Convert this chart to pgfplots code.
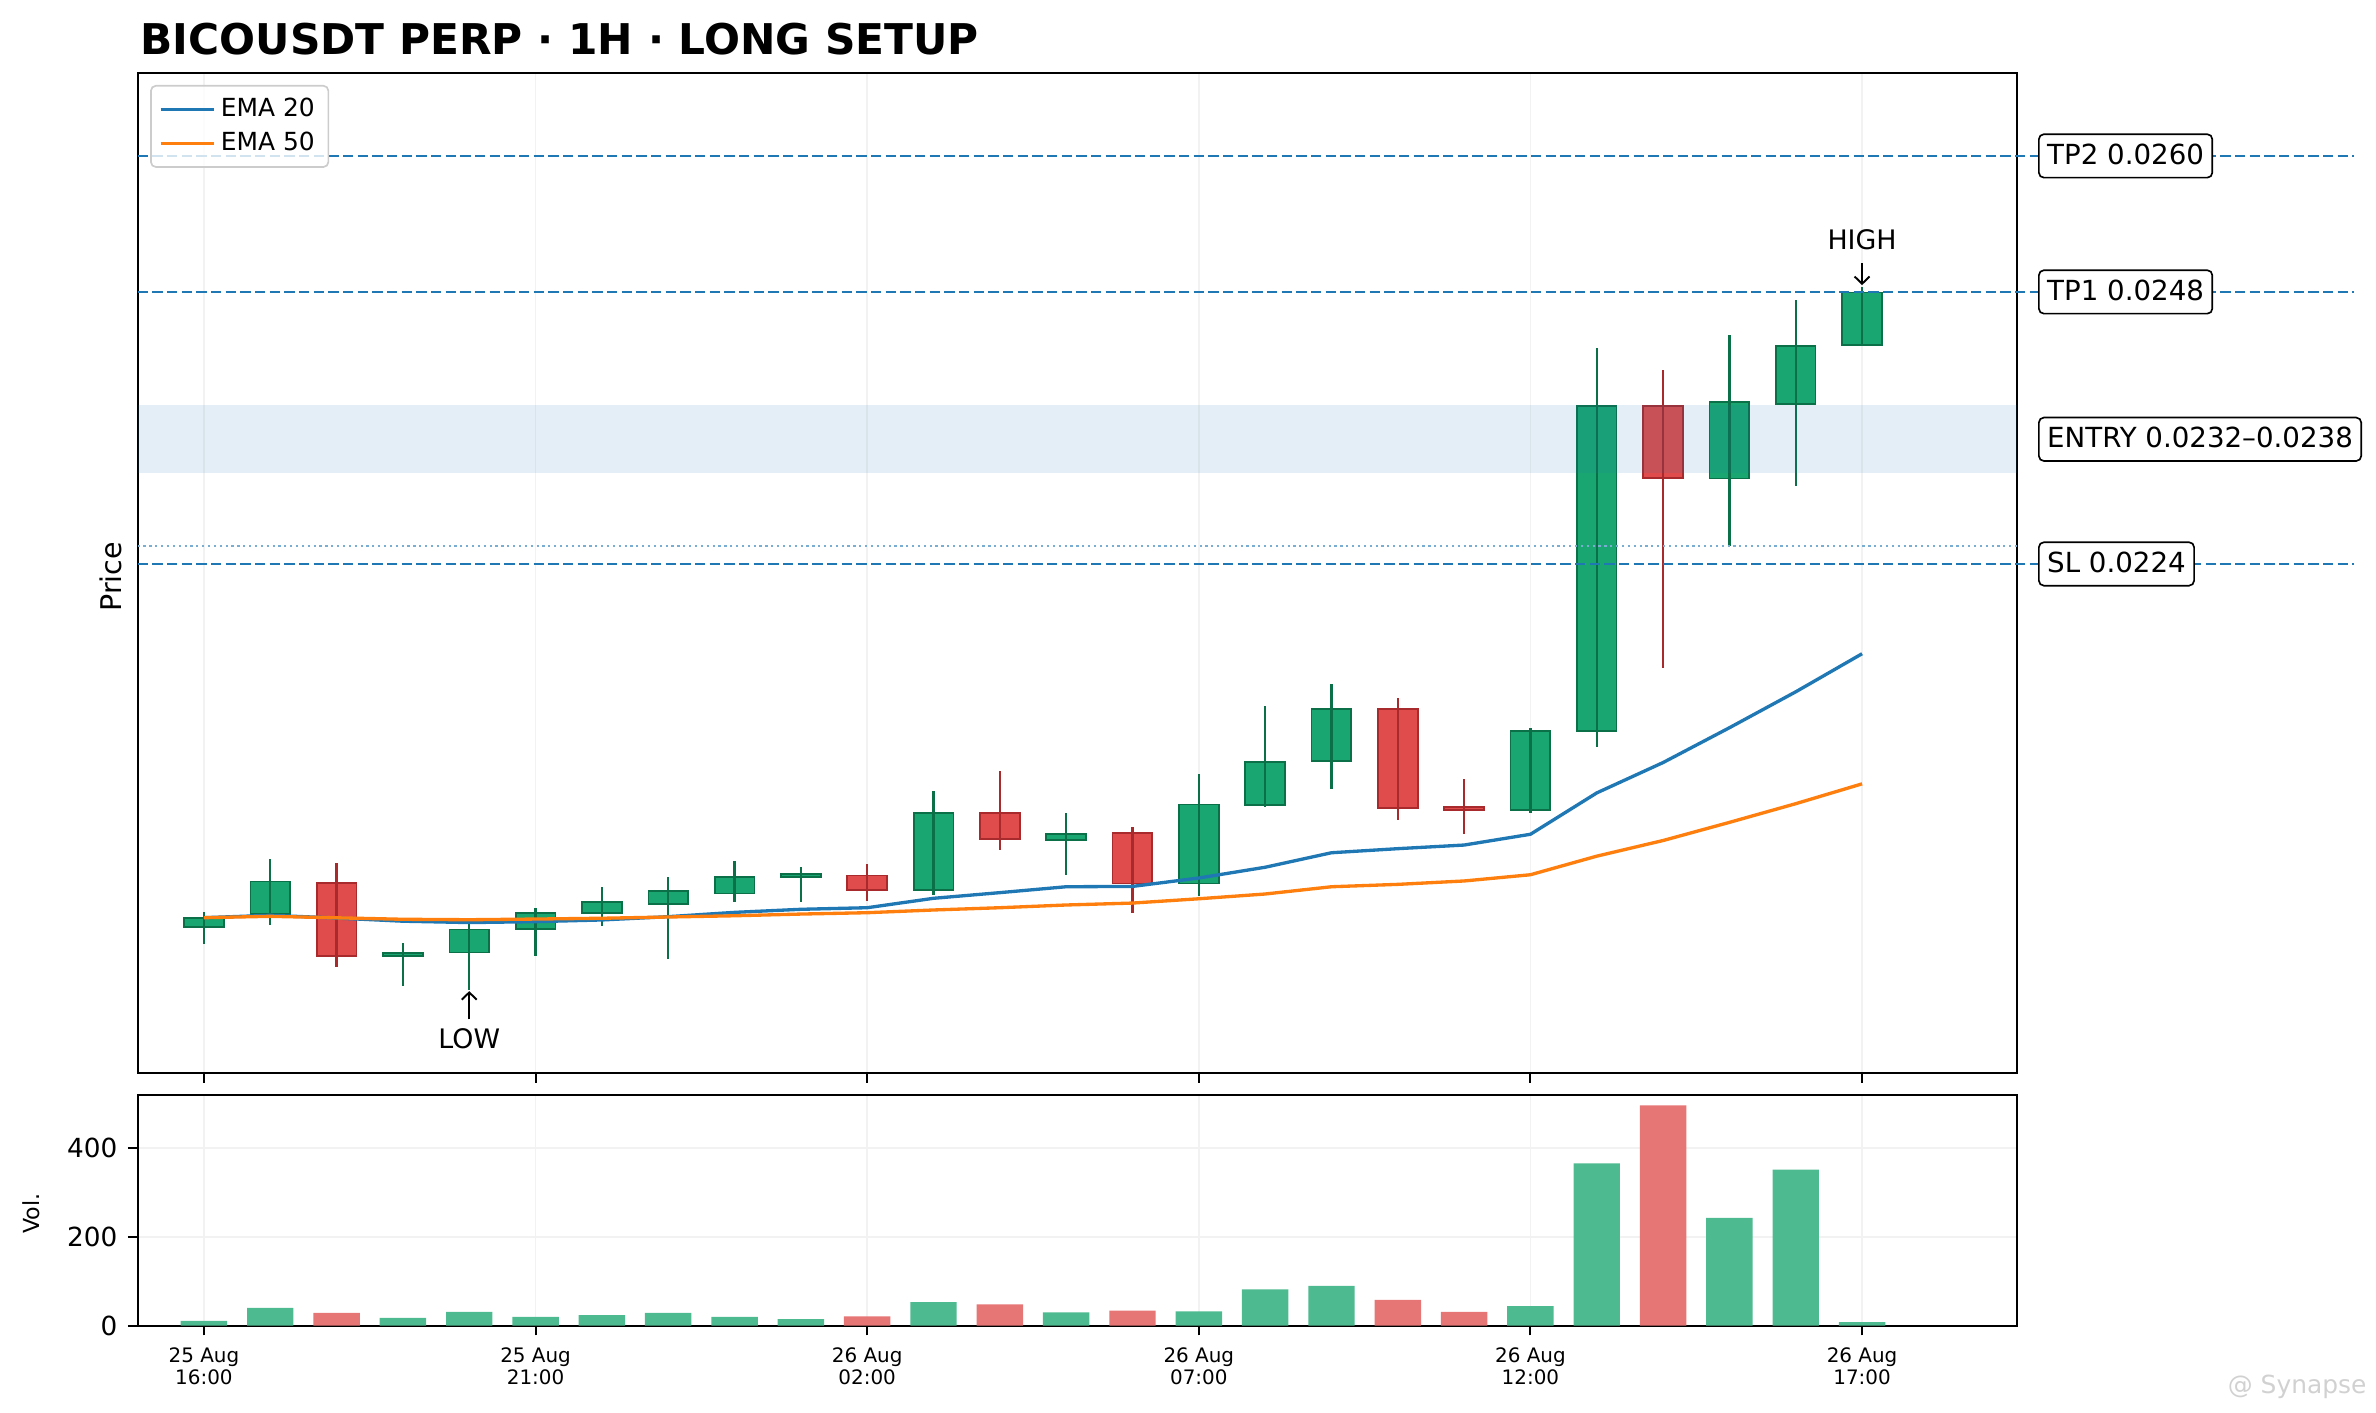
\documentclass[border=0pt]{standalone}
\usepackage{fontspec}
\setmainfont{DejaVu Sans}
\usepackage{pgfplots}
\pgfplotsset{compat=1.18}
\usepackage{pgfplotstable}
\usetikzlibrary{arrows.meta}

\definecolor{tabblue}{HTML}{1F77B4}
\definecolor{taborange}{HTML}{FF7F0E}
\definecolor{upfill}{HTML}{1AA670}
\definecolor{upedge}{HTML}{0B7048}
\definecolor{dnfill}{HTML}{E04C4C}
\definecolor{dnedge}{HTML}{A82A2D}
\definecolor{vup}{HTML}{4DBA8F}
\definecolor{vdn}{HTML}{E67575}

% green (up) candles
\pgfplotstableread{
i  o         h         l         c         v
0  0.019197  0.019332  0.019047  0.019279  10.6
1  0.019309  0.019794  0.019212  0.019597  40
3  0.018941  0.019058  0.018676  0.018970  17.5
4  0.018973  0.019223  0.018641  0.019176  31
5  0.019179  0.019362  0.018941  0.019323  20
6  0.019318  0.019552  0.019206  0.019415  24
7  0.019400  0.019635  0.018914  0.019512  29
8  0.019494  0.019782  0.019415  0.019641  20
9  0.019638  0.019724  0.019415  0.019667  15
11 0.019523  0.020400  0.019479  0.020205  53
13 0.019964  0.020200  0.019656  0.020020  30
15 0.019582  0.020544  0.019473  0.020279  32
16 0.020273  0.021144  0.020253  0.020655  82
17 0.020662  0.021338  0.020412  0.021118  90
20 0.020229  0.020950  0.020205  0.020929  44
21 0.020929  0.024303  0.020785  0.023794  366
23 0.023153  0.024423  0.022559  0.023829  243
24 0.023814  0.024730  0.023088  0.024324  352
25 0.024332  0.024841  0.024332  0.024794  8
}\up

% red (down) candles
\pgfplotstableread{
i  o         h         l         c         v
2  0.019588  0.019759  0.018844  0.018941  29
10 0.019650  0.019750  0.019426  0.019523  21
12 0.020200  0.020576  0.019876  0.019973  48
14 0.020029  0.020082  0.019318  0.019582  34
18 0.021118  0.021215  0.020141  0.020244  58
19 0.020258  0.020500  0.020015  0.020229  31
22 0.023794  0.024112  0.021485  0.023161  497
}\dn

% moving averages
\pgfplotstableread{
i  e20       e50
0  0.019279  0.019279
1  0.019300  0.019291
2  0.019276  0.019278
3  0.019248  0.019265
4  0.019236  0.019261
5  0.019244  0.019267
6  0.019259  0.019274
7  0.019288  0.019285
8  0.019326  0.019296
9  0.019353  0.019311
10 0.019367  0.019323
11 0.019450  0.019347
12 0.019500  0.019367
13 0.019552  0.019391
14 0.019555  0.019408
15 0.019629  0.019446
16 0.019724  0.019488
17 0.019852  0.019552
18 0.019888  0.019573
19 0.019920  0.019603
20 0.020015  0.019658
21 0.020380  0.019822
22 0.020648  0.019960
23 0.020955  0.020120
24 0.021272  0.020285
25 0.021608  0.020460
}\ema

\pgfplotsset{
  cbar/.style n args={2}{forget plot, draw=none, mark=none,
    error bars/.cd, y dir=both, y explicit, error mark=none,
    error bar style={draw=#1, line width=#2, line cap=butt}},
  lvl/.style={forget plot, tabblue, line width=1pt, dash pattern=on 3.7pt off 1.6pt},
}
\tikzset{
  lbl/.style={anchor=west, draw=black, line width=0.6pt, fill=white, rounded corners=1.8pt,
    inner xsep=3pt, inner ysep=3.7pt, text height=7.29pt, text depth=1pt,
    font=\fontsize{10}{12}\selectfont},
  arr/.style={-{Straight Barb[length=2.6pt,width=5.4pt]}, line width=0.7pt, black},
}

\begin{document}
\begin{tikzpicture}
% ---------------- price axis ----------------
\begin{axis}[
  at={(49.72pt,122.86pt)}, anchor=south west, scale only axis,
  width=678.98pt, height=361.46pt,
  xmin=-1, xmax=27.33, ymin=0.017909, ymax=0.026735,
  clip=false,
  ytick=\empty,
  xtick={0,5,10,15,20,25}, xticklabel=\empty,
  xtick pos=left, tick align=outside, major tick length=3.5pt,
  xmajorgrids, major grid style={draw=black!5, line width=0.6pt},
  axis line style={line width=0.7pt},
  every tick/.append style={line width=0.7pt, black},
  legend style={at={(0.00665,0.9877)}, anchor=north west, draw=black!20, line width=0.6pt,
    rounded corners=1.8pt, fill=white, fill opacity=0.8, text opacity=1, draw opacity=1,
    font=\fontsize{9}{11}\selectfont, inner xsep=2.9pt, inner ysep=2.5pt, row sep=0pt,
    cells={anchor=west}},
  legend image code/.code={\draw[#1, line width=1.2pt] (0pt,0pt) -- (19.2pt,0pt);},
]
% candle bodies (edge, then fill)
\addplot[cbar={upedge}{14.96pt}] table[x=i, y expr={(\thisrow{o}+\thisrow{c})/2},
  y error expr={abs(\thisrow{c}-\thisrow{o})/2+0.0000073}] {\up};
\addplot[cbar={upfill}{13.73pt}] table[x=i, y expr={(\thisrow{o}+\thisrow{c})/2},
  y error expr={max(abs(\thisrow{c}-\thisrow{o})/2-0.0000073,0.0000005)}] {\up};
\addplot[cbar={dnedge}{14.96pt}] table[x=i, y expr={(\thisrow{o}+\thisrow{c})/2},
  y error expr={abs(\thisrow{c}-\thisrow{o})/2+0.0000073}] {\dn};
\addplot[cbar={dnfill}{13.73pt}] table[x=i, y expr={(\thisrow{o}+\thisrow{c})/2},
  y error expr={max(abs(\thisrow{c}-\thisrow{o})/2-0.0000073,0.0000005)}] {\dn};
% wicks
\addplot[cbar={upedge}{0.9pt}] table[x=i, y expr={(\thisrow{h}+\thisrow{l})/2},
  y error expr={(\thisrow{h}-\thisrow{l})/2}] {\up};
\addplot[cbar={dnedge}{0.9pt}] table[x=i, y expr={(\thisrow{h}+\thisrow{l})/2},
  y error expr={(\thisrow{h}-\thisrow{l})/2}] {\dn};
% EMAs
\addplot[tabblue, line width=1.2pt, mark=none] table[x=i, y=e20] {\ema};
\addlegendentry{EMA 20}
\addplot[taborange, line width=1.2pt, mark=none] table[x=i, y=e50] {\ema};
\addlegendentry{EMA 50}
% entry zone
\addplot[forget plot, draw=none, fill=tabblue, fill opacity=0.12]
  coordinates {(-1,0.0232) (27.33,0.0232) (27.33,0.0238) (-1,0.0238)} -- cycle;
% levels
\addplot[forget plot, tabblue!60, line width=0.8pt, dash pattern=on 0.8pt off 1.32pt]
  coordinates {(-1,0.02256) (27.33,0.02256)};
\addplot[lvl] coordinates {(-1,0.0260) (32.41,0.0260)};
\addplot[lvl] coordinates {(-1,0.0248) (32.41,0.0248)};
\addplot[lvl] coordinates {(-1,0.0224) (32.41,0.0224)};
\node[lbl] at (axis cs:27.653,0.0260) {TP2 0.0260};
\node[lbl] at (axis cs:27.653,0.0248) {TP1 0.0248};
\node[lbl] at (axis cs:27.653,0.0235) {ENTRY 0.0232–0.0238};
\node[lbl] at (axis cs:27.653,0.0224) {SL 0.0224};
% annotations
\draw[arr] ([yshift=8.7pt]axis cs:25,0.024841) -- ([yshift=0.8pt]axis cs:25,0.024841);
\node[anchor=base, inner sep=0pt, font=\fontsize{9.7}{11}\selectfont]
  at ([yshift=13.7pt]axis cs:25,0.024841) {HIGH};
\draw[arr] ([yshift=-10.6pt]axis cs:4,0.018641) -- ([yshift=-0.4pt]axis cs:4,0.018641);
\node[anchor=base, inner sep=0pt, font=\fontsize{9.7}{11}\selectfont]
  at ([yshift=-21.1pt]axis cs:4,0.018641) {LOW};
\end{axis}

% ---------------- volume axis ----------------
\begin{axis}[
  at={(49.72pt,31.55pt)}, anchor=south west, scale only axis,
  width=678.98pt, height=83.47pt,
  xmin=-1, xmax=27.33, ymin=0, ymax=521,
  xtick={0,5,10,15,20,25},
  xticklabels={{25 Aug\\16:00},{25 Aug\\21:00},{26 Aug\\02:00},{26 Aug\\07:00},{26 Aug\\12:00},{26 Aug\\17:00}},
  ytick={0,200,400}, yticklabels={0,200,400},
  xtick pos=left, ytick pos=left, tick align=outside, major tick length=3.5pt,
  grid=major, major grid style={draw=black!5, line width=0.6pt},
  axis line style={line width=0.7pt},
  every tick/.append style={line width=0.7pt, black},
  xticklabel style={align=center, inner sep=0pt, yshift=-4.4pt, font=\fontsize{7.2}{7.95}\selectfont},
  yticklabel style={inner sep=0pt, xshift=-3.6pt, font=\fontsize{9.5}{11}\selectfont},
]
\addplot[ybar, bar width=0.7, bar shift=0pt, fill=vup, draw=none] table[x=i, y=v] {\up};
\addplot[ybar, bar width=0.7, bar shift=0pt, fill=vdn, draw=none] table[x=i, y=v] {\dn};
\end{axis}

% ---------------- texts outside axes ----------------
\node[anchor=base west, inner sep=0pt, font=\fontsize{15.3}{18}\selectfont\bfseries]
  at (50.6pt,490.96pt) {BICOUSDT PERP · 1H · LONG SETUP};
\node[rotate=90, anchor=south, inner sep=0pt, font=\fontsize{10.3}{12}\selectfont]
  at (44.19pt,302.2pt) {Price};
\node[rotate=90, anchor=south, inner sep=0pt, font=\fontsize{8}{10}\selectfont]
  at (14.7pt,72.0pt) {Vol.};
\node[anchor=base east, inner sep=0pt, text=black!18, font=\fontsize{9}{11}\selectfont]
  at (855.3pt,7.2pt) {@ Synapse};

\pgfresetboundingbox
\path[use as bounding box] (0,0) rectangle (858.57pt,510.58pt);
\end{tikzpicture}
\end{document}
